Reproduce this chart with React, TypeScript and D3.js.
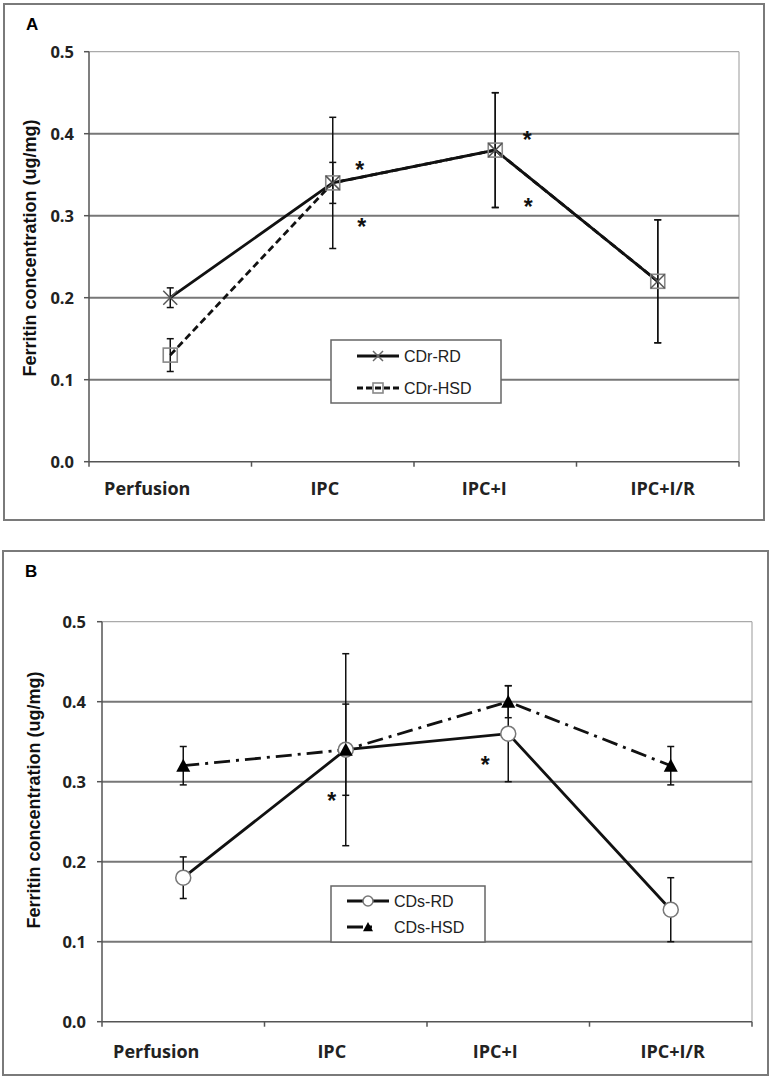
import React from "react";
import * as d3 from "d3";

const categories = ["Perfusion", "IPC", "IPC+I", "IPC+I/R"];
const yTicks = [0, 0.1, 0.2, 0.3, 0.4, 0.5];

// Panel A
const cdrRD = [0.2, 0.34, 0.38, 0.22];
const cdrRDErr = [0.012, 0.025, 0.07, 0.075];
const cdrHSD = [0.13, 0.34, 0.38, 0.22];
const cdrHSDErr = [0.02, 0.08, 0.07, 0.075];
const starsA = [
  { cat: "IPC", v: 0.362, dx: 27 },
  { cat: "IPC", v: 0.292, dx: 29 },
  { cat: "IPC+I", v: 0.398, dx: 32 },
  { cat: "IPC+I", v: 0.317, dx: 33 },
];
const labelShiftA = [-23, -8, -11, 5];

// Panel B
const cdsRD = [0.18, 0.34, 0.36, 0.14];
const cdsRDErr = [0.026, 0.12, 0.06, 0.04];
const cdsHSD = [0.32, 0.34, 0.4, 0.32];
const cdsHSDErr = [0.024, 0.057, 0.02, 0.024];
const starsB = [
  { cat: "IPC", v: 0.282, dx: -14 },
  { cat: "IPC+I", v: 0.327, dx: -23 },
];
const labelShiftB = [-27, -14, -13, 2];

const TICK_FONT = "'Open Sans', sans-serif";
const ARIAL = "'Liberation Sans', Arial, sans-serif";

function XMark({ x, y, s = 7, color = "#555" }) {
  return (
    <g stroke={color} strokeWidth={1.5}>
      <line x1={x - s} y1={y - s} x2={x + s} y2={y + s} />
      <line x1={x - s} y1={y + s} x2={x + s} y2={y - s} />
    </g>
  );
}
function Square({ x, y, s = 7, color = "#888" }) {
  return <rect x={x - s} y={y - s} width={2 * s} height={2 * s} fill="none" stroke={color} strokeWidth={1.6} />;
}
function Circle({ x, y, r = 7.5 }) {
  return <circle cx={x} cy={y} r={r} fill="#fff" stroke="#777" strokeWidth={1.5} />;
}
function Tri({ x, y, s = 7 }) {
  return <path d={`M${x},${y - s}L${x + s},${y + s * 0.85}L${x - s},${y + s * 0.85}Z`} fill="#000" />;
}

function ErrBars({ xs, vals, errs, y }) {
  return (
    <g stroke="#111" strokeWidth={1.5}>
      {vals.map((v, i) => (
        <g key={i}>
          <line x1={xs[i]} x2={xs[i]} y1={y(v + errs[i])} y2={y(v - errs[i])} />
          <line x1={xs[i] - 3.5} x2={xs[i] + 3.5} y1={y(v + errs[i])} y2={y(v + errs[i])} />
          <line x1={xs[i] - 3.5} x2={xs[i] + 3.5} y1={y(v - errs[i])} y2={y(v - errs[i])} />
        </g>
      ))}
    </g>
  );
}

function Star({ x, y }) {
  return (
    <text x={x} y={y} dy="0.56em" textAnchor="middle" fontFamily={ARIAL} fontWeight="bold" fontSize={23} fill="#111">
      *
    </text>
  );
}

function Panel({ box, plot, letter, titleY, titleX, labelShift, tickGap, xLabelGap, children }) {
  const x = d3.scaleBand().domain(categories).range([plot.x0, plot.x1]).padding(0);
  const y = d3.scaleLinear().domain([0, 0.5]).range([plot.y0, plot.y1]);
  const cx = (c) => (x(c) as number) + x.bandwidth() / 2;
  const bounds = [...categories.map((c) => x(c) as number), plot.x1];
  return (
    <g>
      <rect x={box.x} y={box.y} width={box.w} height={box.h} fill="#fff" stroke="#7a7a7a" strokeWidth={2} />
      <text x={box.x + 22} y={box.y + 26} fontFamily={ARIAL} fontWeight="bold" fontSize={17}>
        {letter}
      </text>
      <line x1={plot.x0} x2={plot.x1} y1={y(0.5)} y2={y(0.5)} stroke="#aaa" strokeWidth={1.2} />
      <line x1={plot.x1} x2={plot.x1} y1={y(0.5)} y2={y(0)} stroke="#aaa" strokeWidth={1.2} />
      {yTicks.filter((t) => t > 0 && t < 0.5).map((t) => (
        <line key={t} x1={plot.x0} x2={plot.x1} y1={y(t)} y2={y(t)} stroke="#777" strokeWidth={2} />
      ))}
      <line x1={plot.x0} x2={plot.x0} y1={y(0.5)} y2={y(0)} stroke="#555" strokeWidth={1.5} />
      {yTicks.map((t) => (
        <g key={t}>
          <line x1={plot.x0 - 5} x2={plot.x0} y1={y(t)} y2={y(t)} stroke="#555" strokeWidth={1.5} />
          <text
            x={plot.x0 - tickGap}
            y={y(t)}
            dy="0.36em"
            textAnchor="end"
            fontFamily={TICK_FONT}
            fontWeight="bold"
            fontSize={16.5}
            fill="#222"
          >
            {d3.format(".1f")(t)}
          </text>
        </g>
      ))}
      <line x1={plot.x0} x2={plot.x1} y1={y(0)} y2={y(0)} stroke="#555" strokeWidth={1.5} />
      {bounds.map((b, i) => (
        <line key={i} x1={b} x2={b} y1={y(0)} y2={y(0) + 5} stroke="#555" strokeWidth={1.5} />
      ))}
      {categories.map((c, i) => (
        <text
          key={c}
          x={cx(c) + labelShift[i]}
          y={y(0) + xLabelGap}
          dy="0.36em"
          textAnchor="middle"
          fontFamily={TICK_FONT}
          fontWeight="bold"
          fontSize={18}
          fill="#222"
        >
          {c}
        </text>
      ))}
      <text
        transform={`translate(${titleX},${titleY}) rotate(-90)`}
        textAnchor="middle"
        dy="0.35em"
        fontFamily={ARIAL}
        fontWeight="bold"
        fontSize={18}
        fill="#111"
      >
        Ferritin concentration (ug/mg)
      </text>
      {children({ x: cx, y })}
    </g>
  );
}

export default function App() {
  return (
    <svg
      width={771}
      height={1078}
      style={{ position: "absolute", left: 0, top: 0, background: "#fff" }}
      xmlns="http://www.w3.org/2000/svg"
    >
      <Panel
        box={{ x: 4, y: 4, w: 760, h: 516 }}
        plot={{ x0: 89, x1: 739, y0: 461.7, y1: 51.7 }}
        letter="A"
        titleX={30}
        titleY={248}
        labelShift={labelShiftA}
        tickGap={15}
        xLabelGap={27}
      >
        {({ x, y }) => {
          const xs = categories.map(x);
          const line = d3.line<number>().x((_, i) => xs[i]).y((v) => y(v));
          return (
            <g>
              <path d={line(cdrHSD) as string} fill="none" stroke="#111" strokeWidth={2.8} strokeDasharray="7,4" />
              <path d={line(cdrRD) as string} fill="none" stroke="#111" strokeWidth={2.8} />
              <ErrBars xs={xs} vals={cdrHSD} errs={cdrHSDErr} y={y} />
              <ErrBars xs={xs} vals={cdrRD} errs={cdrRDErr} y={y} />
              {cdrHSD.map((v, i) => (
                <Square key={"s" + i} x={xs[i]} y={y(v)} />
              ))}
              {cdrRD.map((v, i) => (
                <XMark key={"x" + i} x={xs[i]} y={y(v)} />
              ))}
              {starsA.map((s, i) => (
                <Star key={i} x={x(s.cat) + s.dx} y={y(s.v)} />
              ))}
              <g>
                <rect x={331} y={340} width={170} height={63} fill="#fff" stroke="#666" strokeWidth={1.5} />
                <line x1={357} x2={399} y1={356} y2={356} stroke="#111" strokeWidth={2.8} />
                <XMark x={378} y={356} s={5} color="#666" />
                <text x={404} y={356} dy="0.36em" fontFamily={ARIAL} fontSize={16} fill="#222">
                  CDr-RD
                </text>
                <line x1={357} x2={399} y1={388} y2={388} stroke="#111" strokeWidth={2.8} strokeDasharray="6,3" />
                <Square x={378} y={388} s={5} color="#888" />
                <text x={404} y={388} dy="0.36em" fontFamily={ARIAL} fontSize={16} fill="#222">
                  CDr-HSD
                </text>
              </g>
            </g>
          );
        }}
      </Panel>
      <Panel
        box={{ x: 3, y: 551, w: 765, h: 524 }}
        plot={{ x0: 102, x1: 752, y0: 1021.7, y1: 621.7 }}
        letter="B"
        titleX={34}
        titleY={800}
        labelShift={labelShiftB}
        tickGap={16}
        xLabelGap={30}
      >
        {({ x, y }) => {
          const xs = categories.map(x);
          const line = d3.line<number>().x((_, i) => xs[i]).y((v) => y(v));
          return (
            <g>
              <path d={line(cdsHSD) as string} fill="none" stroke="#111" strokeWidth={2.8} strokeDasharray="16,6,3,6" />
              <path d={line(cdsRD) as string} fill="none" stroke="#111" strokeWidth={2.8} />
              <ErrBars xs={xs} vals={cdsRD} errs={cdsRDErr} y={y} />
              <ErrBars xs={xs} vals={cdsHSD} errs={cdsHSDErr} y={y} />
              {cdsRD.map((v, i) => (
                <Circle key={"c" + i} x={xs[i]} y={y(v)} />
              ))}
              {cdsHSD.map((v, i) => (
                <Tri key={"t" + i} x={xs[i]} y={y(v)} />
              ))}
              {starsB.map((s, i) => (
                <Star key={i} x={x(s.cat) + s.dx} y={y(s.v)} />
              ))}
              <g>
                <rect x={331} y={886} width={154} height={56} fill="#fff" stroke="#666" strokeWidth={1.5} />
                <line x1={347} x2={389} y1={901} y2={901} stroke="#111" strokeWidth={2.8} />
                <Circle x={368} y={901} r={5} />
                <text x={394} y={901} dy="0.36em" fontFamily={ARIAL} fontSize={16} fill="#222">
                  CDs-RD
                </text>
                <line x1={347} x2={389} y1={927} y2={927} stroke="#111" strokeWidth={2.8} strokeDasharray="16,6,3,20" />
                <Tri x={368} y={927} s={5} />
                <text x={394} y={927} dy="0.36em" fontFamily={ARIAL} fontSize={16} fill="#222">
                  CDs-HSD
                </text>
              </g>
            </g>
          );
        }}
      </Panel>
    </svg>
  );
}
